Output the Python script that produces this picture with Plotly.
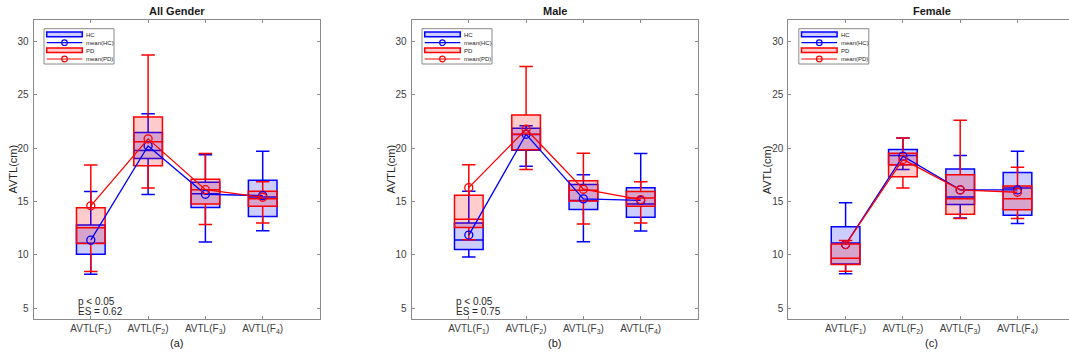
import plotly.graph_objects as go

# ---------------- data ----------------
categories = [1, 2, 3, 4]
tick_labels = ["AVTL(F<sub>1</sub>)", "AVTL(F<sub>2</sub>)", "AVTL(F<sub>3</sub>)", "AVTL(F<sub>4</sub>)"]
panel_titles = ["All Gender", "Male", "Female"]
panel_captions = ["(a)", "(b)", "(c)"]
stats_text = [["p < 0.05", "ES = 0.62"], ["p < 0.05", "ES = 0.75"], None]

# All Gender
all_hc_low = [8.2, 15.65, 11.2, 12.26]
all_hc_q1 = [10.06, 19.03, 14.44, 13.6]
all_hc_med = [11.1, 19.78, 15.72, 15.43]
all_hc_q3 = [12.8, 21.46, 16.8, 17.0]
all_hc_high = [15.93, 23.23, 19.38, 19.72]
all_hc_mean = [11.39, 20.21, 15.68, 15.55]
all_pd_low = [8.44, 16.27, 12.85, 13.0]
all_pd_q1 = [11.08, 18.35, 14.78, 14.56]
all_pd_med = [12.55, 20.59, 16.1, 15.27]
all_pd_q3 = [14.41, 22.92, 17.08, 15.96]
all_pd_high = [18.41, 28.73, 19.5, 16.86]
all_pd_mean = [14.6, 20.87, 16.11, 15.4]

# Male
male_hc_low = [9.81, 18.3, 11.24, 12.23]
male_hc_q1 = [10.5, 19.8, 14.25, 13.53]
male_hc_med = [11.4, 21.27, 15.1, 14.78]
male_hc_q3 = [12.98, 21.86, 16.6, 16.3]
male_hc_high = [15.96, 22.1, 17.52, 19.5]
male_hc_mean = [11.86, 21.3, 15.25, 15.1]
male_pd_low = [11.43, 18.01, 12.89, 13.0]
male_pd_q1 = [12.58, 19.85, 15.05, 14.56]
male_pd_med = [13.35, 21.3, 16.05, 15.34]
male_pd_q3 = [15.59, 23.1, 16.95, 15.93]
male_pd_high = [18.45, 27.64, 19.53, 16.86]
male_pd_mean = [16.3, 21.77, 16.15, 15.18]

# Female
fem_hc_low = [8.23, 18.01, 13.45, 12.94]
fem_hc_q1 = [9.15, 18.45, 14.72, 13.72]
fem_hc_med = [11.12, 19.32, 15.43, 16.27]
fem_hc_q3 = [12.64, 19.88, 18.04, 17.73]
fem_hc_high = [14.88, 20.96, 19.32, 19.72]
fem_hc_mean = [10.97, 19.25, 16.09, 16.09]
fem_pd_low = [8.48, 16.27, 13.42, 13.41]
fem_pd_q1 = [9.1, 17.33, 13.8, 14.22]
fem_pd_med = [9.69, 18.45, 15.25, 15.27]
fem_pd_q3 = [11.03, 19.53, 17.51, 16.46]
fem_pd_high = [11.34, 20.96, 22.61, 18.2]
fem_pd_mean = [10.97, 18.94, 16.09, 15.87]

y_ticks = [5, 10, 15, 20, 25, 30]

panels = [
    dict(hc=(all_hc_low, all_hc_q1, all_hc_med, all_hc_q3, all_hc_high, all_hc_mean),
         pd=(all_pd_low, all_pd_q1, all_pd_med, all_pd_q3, all_pd_high, all_pd_mean)),
    dict(hc=(male_hc_low, male_hc_q1, male_hc_med, male_hc_q3, male_hc_high, male_hc_mean),
         pd=(male_pd_low, male_pd_q1, male_pd_med, male_pd_q3, male_pd_high, male_pd_mean)),
    dict(hc=(fem_hc_low, fem_hc_q1, fem_hc_med, fem_hc_q3, fem_hc_high, fem_hc_mean),
         pd=(fem_pd_low, fem_pd_q1, fem_pd_med, fem_pd_q3, fem_pd_high, fem_pd_mean)),
]

# ---------------- layout geometry ----------------
W, H = 1069, 364
FONT = "Liberation Sans, Arial, sans-serif"
BLUE = "rgb(0,0,255)"
RED = "rgb(255,0,0)"
BLUE_FILL = "rgba(0,0,255,0.2)"
RED_FILL = "rgba(255,0,0,0.2)"
SPINE = "#8a8a8a"
TXT = "#404040"

unit = 57.3
lefts = [33.5, 411.5, 788.3]
top_px, bot_px = 20, 319


def fx(x):
    return x / W


def fy(y):
    return 1 - y / H


fig = go.Figure()
shapes = []
annotations = []

for i, p in enumerate(panels):
    n = i + 1
    xa = "x" if n == 1 else f"x{n}"
    ya = "y" if n == 1 else f"y{n}"
    L = lefts[i]
    right_px = min(L + 5 * unit, W)
    xmax = (right_px - L) / unit

    for key, col, fill, name in (("hc", BLUE, BLUE_FILL, "HC"), ("pd", RED, RED_FILL, "PD")):
        lo, q1, med, q3, hi, mean = p[key]
        fig.add_trace(go.Box(
            x=categories, q1=q1, median=med, q3=q3, lowerfence=lo, upperfence=hi,
            width=0.5, whiskerwidth=0.47, boxpoints=False,
            line=dict(color=col, width=1.5), fillcolor=fill,
            name=name, showlegend=False, xaxis=xa, yaxis=ya, hoverinfo="skip"))
    for key, col, name in (("hc", BLUE, "mean(HC)"), ("pd", RED, "mean(PD)")):
        mean = p[key][5]
        fig.add_trace(go.Scatter(
            x=categories, y=mean, mode="lines+markers",
            line=dict(color=col, width=1.3),
            marker=dict(symbol="circle-open", size=8, color=col, line=dict(width=1.3)),
            name=name, showlegend=False, xaxis=xa, yaxis=ya))

    axis_common = dict(showgrid=False, zeroline=False, showline=True, linecolor=SPINE, linewidth=1,
                       ticks="inside", ticklen=3, tickcolor=SPINE, tickwidth=1,
                       tickfont=dict(family=FONT, size=10, color=TXT))
    xkey = "xaxis" if n == 1 else f"xaxis{n}"
    ykey = "yaxis" if n == 1 else f"yaxis{n}"
    fig.update_layout(**{
        xkey: dict(axis_common, domain=[fx(L), fx(right_px)], range=[0, xmax],
                   tickmode="array", tickvals=categories, ticktext=tick_labels,
                   mirror="ticks", anchor=ya, fixedrange=True),
        ykey: dict(axis_common, domain=[fy(bot_px), fy(top_px)], range=[4, 32],
                   tickmode="array", tickvals=y_ticks, ticktext=[str(t) for t in y_ticks],
                   mirror=("ticks" if n < 3 else False), anchor=xa, ticklabelstandoff=2),
    })

    cx = L + 2.5 * unit
    annotations.append(dict(x=fx(cx), y=fy(11), xref="paper", yref="paper", text="<b>%s</b>" % panel_titles[i],
                            showarrow=False, font=dict(family=FONT, size=11, color="#1a1a1a"),
                            xanchor="center", yanchor="middle"))
    annotations.append(dict(x=fx(cx), y=fy(343), xref="paper", yref="paper", text=panel_captions[i],
                            showarrow=False, font=dict(family=FONT, size=11, color="#1a1a1a"),
                            xanchor="center", yanchor="middle"))
    annotations.append(dict(x=fx(L - 21.5), y=fy((top_px + bot_px) / 2), xref="paper", yref="paper",
                            text="AVTL(cm)", textangle=-90, showarrow=False,
                            font=dict(family=FONT, size=11, color="#262626"),
                            xanchor="center", yanchor="middle"))
    if stats_text[i]:
        for j, t in enumerate(stats_text[i]):
            annotations.append(dict(x=fx(L + 42.5), y=fy(301.5 + 9.6 * j), xref="paper", yref="paper", text=t,
                                    showarrow=False, font=dict(family=FONT, size=10, color="#262626"),
                                    xanchor="left", yanchor="middle"))

    # legend box
    shapes.append(dict(type="rect", xref="paper", yref="paper",
                       x0=fx(L + 10.5), x1=fx(L + 80.5), y0=fy(28.7), y1=fy(64),
                       line=dict(color="#8a8a8a", width=1), fillcolor="white", layer="above"))
    entries = [("HC", "box", BLUE, BLUE_FILL, 34.4), ("mean(HC)", "line", BLUE, None, 42.7),
               ("PD", "box", RED, RED_FILL, 50.3), ("mean(PD)", "line", RED, None, 59.0)]
    for label, kind, col, fill, yc in entries:
        if kind == "box":
            shapes.append(dict(type="rect", xref="paper", yref="paper",
                               x0=fx(L + 13.2), x1=fx(L + 48.8), y0=fy(yc + 2.3), y1=fy(yc - 2.3),
                               line=dict(color=col, width=1.5), fillcolor=fill, layer="above"))
        else:
            shapes.append(dict(type="line", xref="paper", yref="paper",
                               x0=fx(L + 13.2), x1=fx(L + 48.8), y0=fy(yc), y1=fy(yc),
                               line=dict(color=col, width=1.2), layer="above"))
            shapes.append(dict(type="circle", xref="paper", yref="paper",
                               x0=fx(L + 28.2), x1=fx(L + 33.8), y0=fy(yc + 2.8), y1=fy(yc - 2.8),
                               line=dict(color=col, width=1.2), fillcolor="rgba(0,0,0,0)", layer="above"))
        annotations.append(dict(x=fx(L + 50.8), y=fy(yc + 0.5), xref="paper", yref="paper", text=label,
                                showarrow=False, font=dict(family=FONT, size=6, color="#262626"),
                                xanchor="left", yanchor="middle"))

fig.update_layout(
    width=W, height=H, margin=dict(l=0, r=0, t=0, b=0),
    paper_bgcolor="white", plot_bgcolor="white",
    boxmode="overlay", showlegend=False,
    shapes=shapes, annotations=annotations,
    font=dict(family=FONT),
)

fig.write_html("out.html", config={"displayModeBar": False},
               post_script="document.body.style.margin='0';document.body.style.overflow='hidden';")
